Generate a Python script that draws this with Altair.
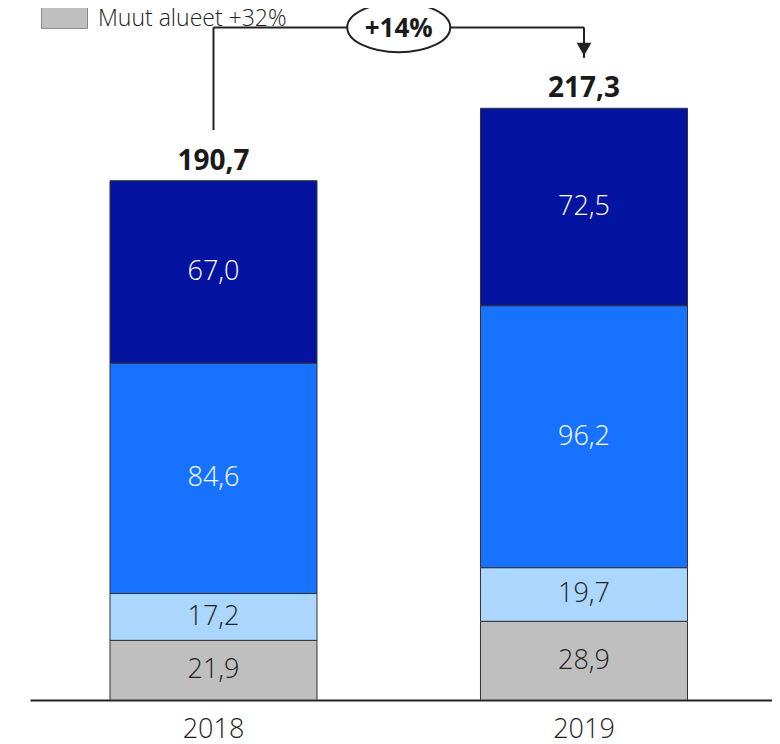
import altair as alt
import pandas as pd

years = ["2018", "2019"]
segments = ["Muut alueet", "Alue 3", "Alue 2", "Alue 1"]  # bottom -> top
values_2018 = [21.9, 17.2, 84.6, 67.0]
values_2019 = [28.9, 19.7, 96.2, 72.5]
totals = [190.7, 217.3]
colors = ["#BFBFBF", "#ABD7FF", "#1773FF", "#0414A0"]
label_colors = ["#222222", "#222222", "#FFFFFF", "#FFFFFF"]
growth_label = "+14%"
legend_extra = " +32%"

# annotation levels (value units)
arrow_start = 209.3
arrow_level = 247.0
arrow_end = 235.8
arrow_head = 239.0

rows = []
for yr, vals in zip(years, [values_2018, values_2019]):
    base = 0.0
    for i, (seg, v) in enumerate(zip(segments, vals)):
        rows.append({
            "year": yr, "segment": seg, "value": v, "order": i,
            "y0": base, "y1": base + v, "mid": base + v / 2,
            "label": f"{v:.1f}".replace(".", ","), "lc": label_colors[i],
        })
        base += v
df = pd.DataFrame(rows)
tot_df = pd.DataFrame({"year": years, "total": totals,
                       "label": [f"{t:.1f}".replace(".", ",") for t in totals]})

ymax = 692 / 2.723
FONT = "Open Sans"

x = alt.X("year:N", title=None,
          scale=alt.Scale(paddingInner=0.4413, paddingOuter=0.222, align=0.4863, round=False),
          axis=alt.Axis(labelAngle=0, ticks=False, labelPadding=16, labelFontSize=27,
                        labelFont=FONT, labelFontWeight=300, labelColor="#222222",
                        domainColor="#222222", domainWidth=2))
y_scale = alt.Scale(domain=[0, ymax], nice=False, zero=True)

bars = alt.Chart(df).mark_bar(stroke="#333333", strokeWidth=1).encode(
    x=x,
    y=alt.Y("y0:Q", scale=y_scale, axis=None),
    y2="y1:Q",
    color=alt.Color("segment:N",
                    scale=alt.Scale(domain=segments, range=colors),
                    legend=alt.Legend(values=["Muut alueet"], title=None, orient="none",
                                      legendX=11, legendY=-13,
                                      labelExpr="datum.label + '" + legend_extra + "'",
                                      labelFont=FONT, labelFontSize=23, labelFontWeight=300,
                                      labelColor="#222222", labelLimit=0,
                                      symbolType="M -1 -1 L 1 -1 L 1 0.43 L -1 0.43 Z",
                                      symbolSize=2116, symbolStrokeColor="#888888",
                                      symbolStrokeWidth=1, symbolOpacity=1, labelOffset=10,
                                      padding=0)),
)

seg_text = alt.Chart(df).mark_text(fontSize=27, font=FONT, fontWeight=300, baseline="middle").encode(
    x=alt.X("year:N"),
    y=alt.Y("mid:Q", scale=y_scale),
    text="label:N",
    color=alt.Color("lc:N", scale=None, legend=None),
)

tot_text = alt.Chart(tot_df).mark_text(fontSize=28, font=FONT, fontWeight="bold",
                                       baseline="alphabetic", dy=-11, color="#1a1a1a").encode(
    x=alt.X("year:N"),
    y=alt.Y("total:Q", scale=y_scale),
    text="label:N",
)

vline_df = pd.DataFrame({"year": years, "ya": [arrow_start, arrow_end], "yb": [arrow_level, arrow_level]})
vlines = alt.Chart(vline_df).mark_rule(color="#222222", strokeWidth=2).encode(
    x=alt.X("year:N"), y=alt.Y("ya:Q", scale=y_scale), y2="yb:Q")

hline_df = pd.DataFrame({"a": [years[0]], "b": [years[1]], "lvl": [arrow_level]})
hline = alt.Chart(hline_df).mark_rule(color="#222222", strokeWidth=2).encode(
    x=alt.X("a:N"), x2="b:N", y=alt.Y("lvl:Q", scale=y_scale))

head_df = pd.DataFrame({"year": [years[1]], "lvl": [arrow_head]})
head = alt.Chart(head_df).mark_point(shape="triangle-down", filled=True, color="#222222",
                                     size=220, opacity=1).encode(
    x=alt.X("year:N"), y=alt.Y("lvl:Q", scale=y_scale))

ell_df = pd.DataFrame({"year": [years[0]], "lvl": [arrow_level], "label": [growth_label]})
ellipse = alt.Chart(ell_df).mark_point(
    shape="M -1 0 A 1 0.48 0 1 0 1 0 A 1 0.48 0 1 0 -1 0 Z",
    filled=True, fill="white", stroke="#222222", strokeWidth=2, size=10609, opacity=1,
    xOffset=185.25).encode(x=alt.X("year:N"), y=alt.Y("lvl:Q", scale=y_scale))
ell_text = alt.Chart(ell_df).mark_text(fontSize=26, font=FONT, fontWeight="bold",
                                       color="#1a1a1a", baseline="middle",
                                       xOffset=185.25, dy=2).encode(
    x=alt.X("year:N"), y=alt.Y("lvl:Q", scale=y_scale), text="label:N")

chart = alt.layer(bars, seg_text, tot_text, vlines, hline, head, ellipse, ell_text).properties(
    width=742, height=692,
    autosize=alt.AutoSizeParams(type="none"),
    padding={"left": 22, "top": 0, "right": 0, "bottom": 44},
).configure_view(stroke=None).resolve_scale(color="independent")

chart.save("out.html", embed_options={"renderer": "svg", "actions": False})
